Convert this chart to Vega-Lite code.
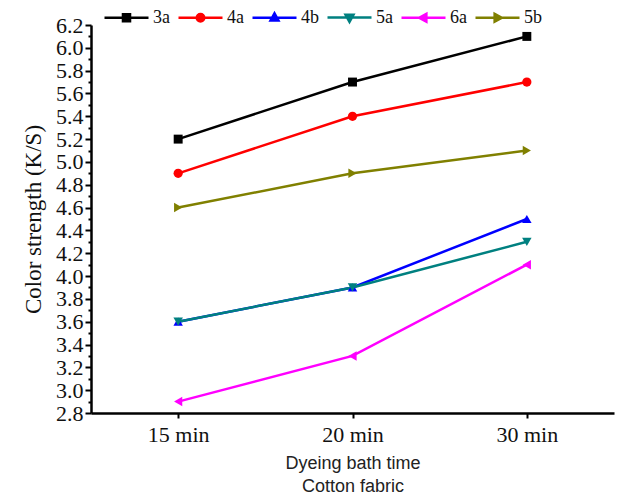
{
  "$schema": "https://vega.github.io/schema/vega-lite/v6.json",
  "autosize": {"type": "none"},
  "padding": {"left": 91, "top": 25, "right": 3, "bottom": 81},
  "width": 523,
  "height": 388,
  "background": "white",
  "config": {"view": {"stroke": null}},
  "data": {
    "values": [
      {"time": "15 min", "series": "3a", "ks": 5.2},
      {"time": "20 min", "series": "3a", "ks": 5.7},
      {"time": "30 min", "series": "3a", "ks": 6.1},
      {"time": "15 min", "series": "4a", "ks": 4.9},
      {"time": "20 min", "series": "4a", "ks": 5.4},
      {"time": "30 min", "series": "4a", "ks": 5.7},
      {"time": "15 min", "series": "4b", "ks": 3.6},
      {"time": "20 min", "series": "4b", "ks": 3.9},
      {"time": "30 min", "series": "4b", "ks": 4.5},
      {"time": "15 min", "series": "5a", "ks": 3.6},
      {"time": "20 min", "series": "5a", "ks": 3.9},
      {"time": "30 min", "series": "5a", "ks": 4.3},
      {"time": "15 min", "series": "6a", "ks": 2.9},
      {"time": "20 min", "series": "6a", "ks": 3.3},
      {"time": "30 min", "series": "6a", "ks": 4.1},
      {"time": "15 min", "series": "5b", "ks": 4.6},
      {"time": "20 min", "series": "5b", "ks": 4.9},
      {"time": "30 min", "series": "5b", "ks": 5.1}
    ]
  },
  "encoding": {
    "x": {
      "field": "time", "type": "ordinal",
      "scale": {"type": "point", "padding": 0.5, "domain": ["15 min", "20 min", "30 min"]},
      "axis": {
        "title": ["Dyeing bath time", "Cotton fabric"],
        "titleFont": "Liberation Sans", "titleFontSize": 18, "titleFontWeight": "normal",
        "titleColor": "#222", "titlePadding": 9, "titleLineHeight": 23,
        "labelFont": "Liberation Serif", "labelFontSize": 22, "labelColor": "#111",
        "labelAngle": 0, "labelPadding": 6,
        "domainColor": "black", "domainWidth": 2.5,
        "tickColor": "black", "tickWidth": 2, "tickSize": 5, "grid": false
      }
    },
    "y": {
      "field": "ks", "type": "quantitative",
      "scale": {"domain": [2.8, 6.2], "nice": false, "zero": false},
      "axis": {
        "title": "Color strength (K/S)",
        "titleFont": "Liberation Serif", "titleFontSize": 23, "titleFontWeight": "normal",
        "titleColor": "#111", "titlePadding": 10,
        "values": [2.8, 2.9, 3.0, 3.1, 3.2, 3.3, 3.4, 3.5, 3.6, 3.7, 3.8, 3.9, 4.0, 4.1, 4.2, 4.3, 4.4, 4.5, 4.6, 4.7, 4.8, 4.9, 5.0, 5.1, 5.2, 5.3, 5.4, 5.5, 5.6, 5.7, 5.8, 5.9, 6.0, 6.1, 6.2],
        "labelExpr": "round(datum.value*10) % 2 == 0 ? format(datum.value, '.1f') : ''",
        "labelFont": "Liberation Serif", "labelFontSize": 22, "labelColor": "#111",
        "labelPadding": 2, "labelOverlap": false,
        "tickSize": {"condition": {"test": "round(datum.value*10) % 2 == 0", "value": 6}, "value": 3},
        "domainColor": "black", "domainWidth": 2.5,
        "tickColor": "black", "tickWidth": 2, "grid": false
      }
    },
    "color": {
      "field": "series", "type": "nominal",
      "scale": {
        "domain": ["3a", "4a", "4b", "5a", "6a", "5b"],
        "range": ["#000000", "#ff0000", "#0000ff", "#008080", "#ff00ff", "#808000"]
      },
      "legend": {
        "title": null,
        "orient": "none",
        "legendX": 12,
        "legendY": -31,
        "direction": "horizontal",
        "columns": 6,
        "padding": 0,
        "columnPadding": 3,
        "symbolSize": 1936,
        "symbolStrokeWidth": 2.5,
        "labelOffset": 3,
        "labelFont": "Liberation Serif",
        "labelFontSize": 18,
        "labelColor": "#111",
        "encode": {
          "symbols": {
            "update": {
              "shape": {"signal": "datum.value == '3a' ? 'M-1,0H1M-0.16,-0.16H0.16V0.16H-0.16Z' : datum.value == '4a' ? 'M-1,0H1M-0.17,0a0.17,0.17 0 1,0 0.34,0a0.17,0.17 0 1,0 -0.34,0Z' : datum.value == '4b' ? 'M-1,0H1M0,-0.2L0.18,0.13L-0.18,0.13Z' : datum.value == '5a' ? 'M-1,0H1M0,0.2L0.18,-0.13L-0.18,-0.13Z' : datum.value == '6a' ? 'M-1,0H1M-0.2,0L0.13,-0.18L0.13,0.18Z' : 'M-1,0H1M0.2,0L-0.13,-0.18L-0.13,0.18Z'"},
              "stroke": {"signal": "scale('color', datum.value)"},
              "fill": {"signal": "scale('color', datum.value)"},
              "strokeWidth": {"value": 2.5},
              "size": {"value": 1936},
              "opacity": {"value": 1}
            }
          }
        }
      }
    }
  },
  "layer": [
    {"mark": {"type": "line", "strokeWidth": 2.5}},
    {"transform": [{"filter": "datum.series == '3a'"}], "mark": {"type": "point", "filled": true, "opacity": 1, "size": 80, "shape": "square"}},
    {"transform": [{"filter": "datum.series == '4a'"}], "mark": {"type": "point", "filled": true, "opacity": 1, "size": 85, "shape": "circle"}},
    {"transform": [{"filter": "datum.series == '4b'"}], "mark": {"type": "point", "filled": true, "opacity": 1, "size": 90, "shape": "triangle-up"}},
    {"transform": [{"filter": "datum.series == '5a'"}], "mark": {"type": "point", "filled": true, "opacity": 1, "size": 90, "shape": "triangle-down"}},
    {"transform": [{"filter": "datum.series == '6a'"}], "mark": {"type": "point", "filled": true, "opacity": 1, "size": 90, "shape": "triangle-left"}},
    {"transform": [{"filter": "datum.series == '5b'"}], "mark": {"type": "point", "filled": true, "opacity": 1, "size": 90, "shape": "triangle-right"}}
  ]
}
